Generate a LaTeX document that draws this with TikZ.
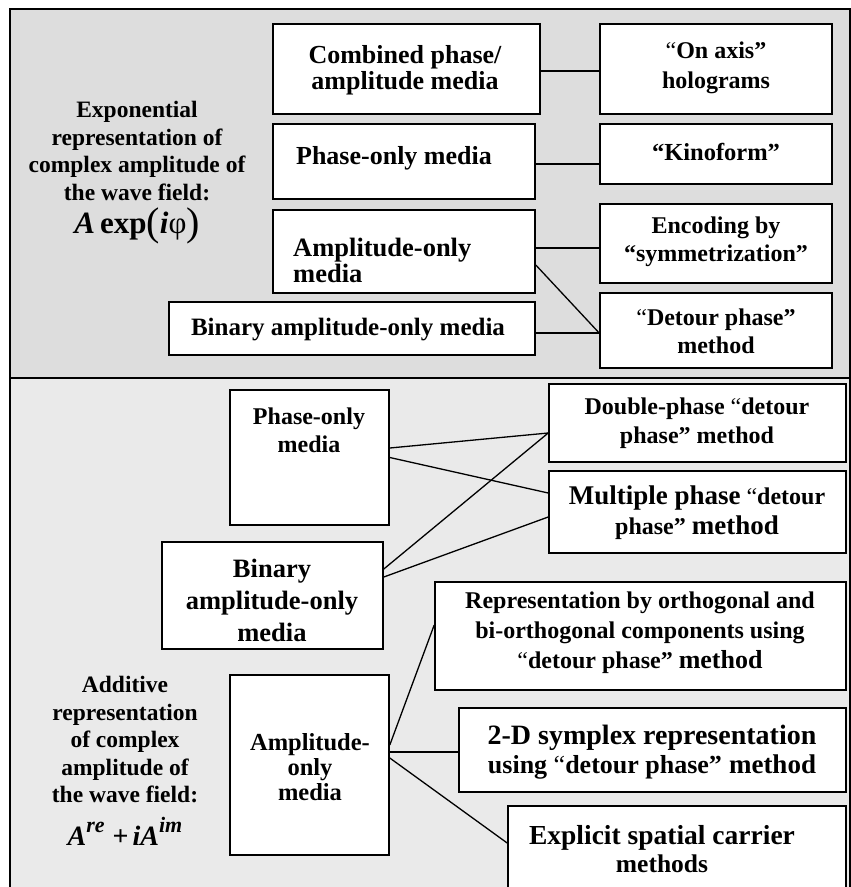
\documentclass[tikz,border=0pt]{standalone}
\usepackage{fontspec}
\setmainfont{Liberation Serif}
\definecolor{topgray}{RGB}{221,221,221}
\definecolor{botgray}{RGB}{234,234,234}
\newcommand\fz[2]{\fontsize{#1}{#2}\selectfont\bfseries}
\newcommand\openq{{\mdseries “}}
\begin{document}
\begin{tikzpicture}[x=1pt,y=-1pt,
  box/.style={draw, line width=1.6pt, fill=white, inner sep=0pt},
  conn/.style={line width=1.3pt},
  lbl/.style={align=center, inner sep=0pt, text=black}]
\useasboundingbox (0,0) rectangle (851,887);
\clip (0,0) rectangle (851,887);
\fill[white] (0,0) rectangle (851,887);
\draw[line width=1.5pt, fill=topgray] (10,9) rectangle (850,378);
\draw[line width=1.5pt, fill=botgray] (10,378) rectangle (850,900);

% boxes
\node[box, minimum width=267pt, minimum height=90pt] (comb) at (406.5,69) {};
\node[box, minimum width=232pt, minimum height=90pt] (onaxis) at (716,69) {};
\node[box, minimum width=262pt, minimum height=75pt] (phaseA) at (404,161.5) {};
\node[box, minimum width=232pt, minimum height=60pt] (kino) at (716,154) {};
\node[box, minimum width=262pt, minimum height=83pt] (ampA) at (404,251.5) {};
\node[box, minimum width=232pt, minimum height=79pt] (enc) at (716,243.5) {};
\node[box, minimum width=232pt, minimum height=75pt] (detour) at (716,330.5) {};
\node[box, minimum width=366pt, minimum height=53pt] (binA) at (352,328.5) {};
\node[box, minimum width=159pt, minimum height=135pt] (phaseB) at (309.5,457.5) {};
\node[box, minimum width=221pt, minimum height=107pt] (binB) at (272.5,595.5) {};
\node[box, minimum width=159pt, minimum height=180pt] (ampB) at (309.5,765) {};
\node[box, minimum width=297pt, minimum height=78pt] (dbl) at (697.5,423) {};
\node[box, minimum width=297pt, minimum height=82pt] (mult) at (697.5,512) {};
\node[box, minimum width=411pt, minimum height=108pt] (rep) at (640.5,636) {};
\node[box, minimum width=387pt, minimum height=84pt] (sym) at (652.5,750) {};
\node[box, minimum width=338pt, minimum height=86pt] (expl) at (677,849) {};

% connectors
\draw[conn] ([yshift=-2pt]comb.east) -- ([yshift=-2pt]onaxis.west);
\draw[conn] ([yshift=-2.5pt]phaseA.east) -- ([yshift=-10pt]kino.west);
\draw[conn] ([yshift=3.5pt]ampA.east) -- ([yshift=-4.5pt]enc.west);
\draw[conn] ([yshift=-13.5pt]ampA.east) -- ([yshift=-2.5pt]detour.west);
\draw[conn] ([yshift=-4.5pt]binA.east) -- ([yshift=-2.5pt]detour.west);
\draw[conn] ([yshift=9.5pt]phaseB.east) -- ([yshift=-10pt]dbl.west);
\draw[conn] (phaseB.east) -- ([yshift=19pt]mult.west);
\draw[conn] ([yshift=26.5pt]binB.east) -- ([yshift=-10pt]dbl.west);
\draw[conn] ([yshift=18.5pt]binB.east) -- ([yshift=-5pt]mult.west);
\draw[conn] ([yshift=20pt]ampB.east) -- ([yshift=11pt]rep.west);
\draw[conn] ([yshift=13pt]ampB.east) -- ([yshift=-2pt]sym.west);
\draw[conn] ([yshift=7pt]ampB.east) -- ([yshift=6pt]expl.west);

% texts
\node[lbl, font=\fz{26}{26}] (tcomb) at (405,70) {Combined phase/\\amplitude media};
\node[lbl, font=\fz{24}{30}] (tonaxis) at (716,68) {\openq On axis”\\holograms};
\node[lbl, font=\fz{26}{26}] (tphaseA) at (394,158) {Phase-only media};
\node[lbl, font=\fz{24.5}{28}] (tkino) at (716,152) {“Kinoform”};
\node[lbl, font=\fz{26.5}{26}, align=left, anchor=west] (tampA) at (293,260) {Amplitude-only\\media};
\node[lbl, font=\fz{24}{28}] (tenc) at (716,242) {Encoding by\\“symmetrization”};
\node[lbl, font=\fz{24}{28}] (tdetour) at (716,331) {\openq Detour phase”\\method};
\node[lbl, font=\fz{25}{28}] (tbinA) at (348,330) {Binary amplitude-only media};
\node[lbl, font=\fz{24}{28}] (tphaseB) at (309,430) {Phase-only\\media};
\node[lbl, font=\fz{26.5}{32}] (tbinB) at (272,600) {Binary\\amplitude-only\\media};
\node[lbl, font=\fz{24.5}{25}] (tampB) at (310,767) {Amplitude-\\only\\media};
\node[lbl, font=\fz{24}{29}] (tdbl) at (697,423) {Double-phase \openq detour\\phase” method};
\node[lbl, font=\fz{24}{30}] (tmult) at (697,513) {{\fontsize{27}{30}\selectfont Multiple phase} \openq detour\\phase” {\fontsize{27}{30}\selectfont method}};
\node[lbl, font=\fz{24}{30}] (trep) at (640,633) {Representation by orthogonal and\\bi-orthogonal components using\\\openq detour phase” {\fontsize{26}{30}\selectfont method}};
\node[lbl, font=\fz{28}{29}] (tsym) at (652,752) {2-D symplex representation\\{\fontsize{26}{29}\selectfont using \openq detour phase”} {\fontsize{27}{29}\selectfont method}};
\node[lbl, font=\fz{27.5}{28}] (texpl) at (662,849) {Explicit spatial carrier\\{\fontsize{25.5}{28}\selectfont methods}};

\node[lbl, font=\fz{23.5}{27.5}] (texp) at (137,151) {Exponential\\representation of\\complex amplitude of\\the wave field:};
\node[lbl, font=\fz{31}{34}] (fexp) at (137,226) {\textit{A}\,exp\raisebox{-2pt}{\mdseries\fontsize{40}{40}\selectfont(}\textit{i}{\mdseries φ}\raisebox{-2pt}{\mdseries\fontsize{40}{40}\selectfont)}};
\node[lbl, font=\fz{23.5}{27.5}] (tadd) at (125,740) {Additive\\representation\\of complex\\amplitude of\\the wave field:};
\node[lbl, font=\fz{28}{30}] (fadd) at (125,831) {\textit{A}\raisebox{13pt}{\fontsize{22}{22}\selectfont\textit{re}}\hspace{8pt}+\hspace{4pt}\textit{iA}\raisebox{13pt}{\fontsize{22}{22}\selectfont\textit{im}}};
\end{tikzpicture}
\end{document}
